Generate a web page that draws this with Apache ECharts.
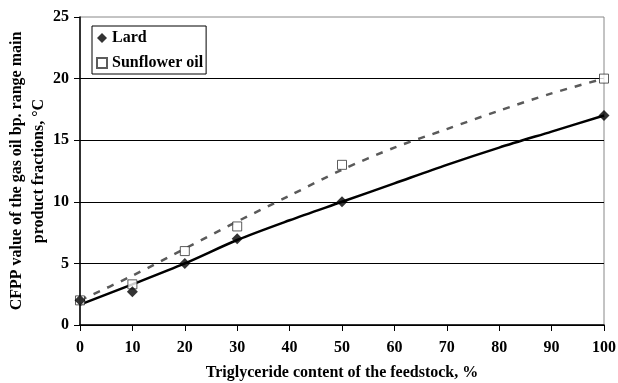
<!DOCTYPE html>
<html>
<head>
<meta charset="utf-8">
<script src="https://cdn.jsdelivr.net/npm/echarts@6/dist/echarts.min.js"></script>
<style>
  html, body { margin: 0; padding: 0; background: #fff; }
  #main { width: 618px; height: 383px; }
</style>
</head>
<body>
<div id="main"></div>
<script>
// measured points
var feedX = [0, 10, 20, 30, 50, 100];
var lardVals = [2, 2.7, 5, 7, 10, 17];
var sunVals = [2, 3.3, 6, 8, 13, 20];

// trend curves, every 10 %
var trendX = [0, 10, 20, 30, 40, 50, 60, 70, 80, 90, 100];
var lardTrend = [1.65, 3.3, 5.0, 6.9, 8.5, 10.0, 11.5, 13.0, 14.4, 15.7, 17.0];
var sunTrend = [2.0, 4.0, 6.2, 8.4, 10.5, 12.6, 14.4, 15.9, 17.4, 18.8, 20.0];

function pairs(xs, ys){
    var out = [];
    for (var i = 0; i < xs.length; i++) out.push([xs[i], ys[i]]);
    return out;
}

var font = '"Liberation Serif", "Times New Roman", serif';
var myChart = echarts.init(document.getElementById('main'));

var option = {
    backgroundColor: '#fff',
    textStyle: { fontFamily: font },
    animation: false,
    grid: {
        left: 80, right: 14, top: 17, bottom: 58,
        outerBoundsMode: 'none',
        containLabel: false,
        show: true, borderColor: '#888', borderWidth: 1
    },
    legend: {
        data: ['Lard', 'Sunflower oil'],
        orient: 'vertical',
        left: 92, top: 26,
        borderColor: '#000', borderWidth: 1,
        padding: [3, 3, 2, 4],
        itemGap: 7,
        itemWidth: 10, itemHeight: 10,
        backgroundColor: '#fff',
        textStyle: { fontFamily: font, fontWeight: 'bold', fontSize: 16, color: '#000', lineHeight: 18 }
    },
    xAxis: {
        type: 'value',
        min: 0, max: 100, interval: 10,
        name: 'Triglyceride content of the feedstock, %',
        nameLocation: 'middle',
        nameGap: 40,
        nameMoveOverlap: false,
        nameTextStyle: { fontFamily: font, fontWeight: 'bold', fontSize: 16, color: '#000' },
        axisLine: { lineStyle: { color: '#000', width: 1.5 } },
        axisTick: { length: 6, lineStyle: { color: '#000' } },
        axisLabel: { fontFamily: font, fontWeight: 'bold', fontSize: 16, color: '#000', margin: 15 },
        splitLine: { show: false }
    },
    yAxis: {
        type: 'value',
        min: 0, max: 25, interval: 5,
        name: 'CFPP value of the gas oil bp. range main\nproduct fractions, °C',
        nameLocation: 'middle',
        nameGap: 30,
        nameMoveOverlap: false,
        nameTextStyle: { fontFamily: font, fontWeight: 'bold', fontSize: 16, color: '#000', lineHeight: 22 },
        axisLine: { lineStyle: { color: '#000', width: 1.5 } },
        axisTick: { length: 6, lineStyle: { color: '#000' } },
        axisLabel: { fontFamily: font, fontWeight: 'bold', fontSize: 16, color: '#000', margin: 11 },
        splitLine: { show: true, showMaxLine: false, lineStyle: { color: '#000', width: 1 } }
    },
    series: [
        {
            type: 'line',
            data: pairs(trendX, lardTrend),
            smooth: 0.3,
            symbol: 'none',
            lineStyle: { color: '#000', width: 2.5 },
            silent: true, z: 2
        },
        {
            type: 'line',
            data: pairs(trendX, sunTrend),
            smooth: 0.3,
            symbol: 'none',
            lineStyle: { color: '#5a5a5a', width: 2.5, type: [7, 8] },
            silent: true, z: 2
        },
        {
            name: 'Lard',
            type: 'scatter',
            data: pairs(feedX, lardVals),
            symbol: 'diamond',
            symbolSize: 11,
            itemStyle: { color: '#000' },
            z: 4
        },
        {
            name: 'Sunflower oil',
            type: 'scatter',
            data: pairs(feedX, sunVals),
            symbol: 'rect',
            symbolSize: 9,
            itemStyle: { color: '#fff', borderColor: '#333', borderWidth: 1 },
            z: 3
        }
    ]
};
myChart.setOption(option);
</script>
</body>
</html>
